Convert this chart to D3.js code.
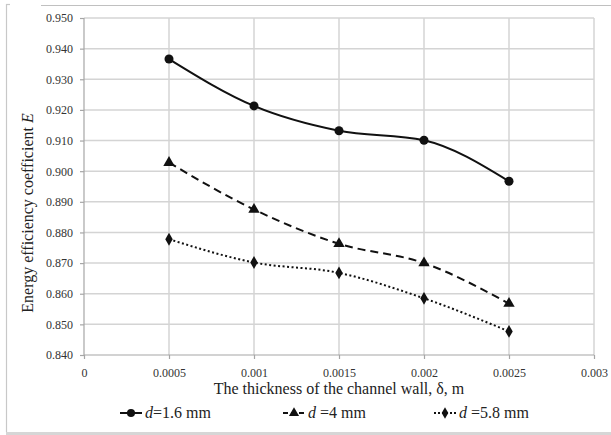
<!DOCTYPE html>
<html>
<head>
<meta charset="utf-8">
<script src="https://cdn.jsdelivr.net/npm/d3@7"></script>
<style>
    body { margin: 0; background: #fff; }
    svg text { font-family: "Liberation Serif", "Times New Roman", "DejaVu Serif", serif !important; }
    .grid line { stroke: #d4d4d4; stroke-width: 1.5; }
    .axis path, .axis line { stroke: #a6a6a6; stroke-width: 1.2; }
    .axis text { font-size: 12px; fill: #333; }
</style>
</head>
<body>
<div id="chart"></div>
<script>
// chart data
const thickness = [0.0005, 0.001, 0.0015, 0.002, 0.0025];
const seriesNames = ["1.6 mm", "4 mm", "5.8 mm"];
const d16 = [0.9366, 0.9213, 0.9132, 0.9101, 0.8967];
const d4 = [0.9028, 0.8875, 0.8763, 0.8700, 0.8568];
const d58 = [0.8778, 0.8702, 0.8668, 0.8585, 0.8477];
const xTicks = [0, 0.0005, 0.001, 0.0015, 0.002, 0.0025, 0.003];
const yTicks = [0.84, 0.85, 0.86, 0.87, 0.88, 0.89, 0.90, 0.91, 0.92, 0.93, 0.94, 0.95];

const width = 611, height = 435;
const margin = { top: 18, right: 17, bottom: 80, left: 84 };
const plotW = width - margin.left - margin.right,
    plotH = height - margin.top - margin.bottom;

const serif = "'Liberation Serif', 'Times New Roman', serif";

const svg = d3.select("#chart").append("svg")
    .attr("width", width)
    .attr("height", height)
    .attr("font-family", serif);

// outer frame (as in the source figure)
svg.append("line").attr("x1", 6.5).attr("x2", 6.5).attr("y1", 4).attr("y2", 432)
    .attr("stroke", "#c8c8c8").attr("stroke-width", 1.2);
svg.append("line").attr("x1", 6).attr("x2", 10).attr("y1", 4.5).attr("y2", 4.5)
    .attr("stroke", "#c8c8c8").attr("stroke-width", 1.2);
svg.append("line").attr("x1", 41).attr("x2", 611).attr("y1", 5.5).attr("y2", 5.5)
    .attr("stroke", "#c0c0c0").attr("stroke-width", 1.2);
svg.append("rect").attr("x", 6).attr("y", 432).attr("width", 605).attr("height", 3)
    .attr("fill", "#d6d6d6");

const g = svg.append("g")
    .attr("transform", "translate(" + margin.left + "," + margin.top + ")");

const x = d3.scaleLinear().domain([0, 0.003]).range([0, plotW]);
const y = d3.scaleLinear().domain([0.84, 0.95]).range([plotH, 0]);

// gridlines
g.append("g").attr("class", "grid")
    .selectAll("line.h").data(yTicks.slice(1)).enter().append("line")
    .attr("x1", 0).attr("x2", plotW)
    .attr("y1", d => y(d)).attr("y2", d => y(d));

g.append("g").attr("class", "grid")
    .selectAll("line.v").data(xTicks.slice(1)).enter().append("line")
    .attr("x1", d => x(d)).attr("x2", d => x(d))
    .attr("y1", 0).attr("y2", plotH);

// axes
const xAxis = d3.axisBottom(x).tickValues(xTicks).tickSize(4).tickPadding(9)
    .tickFormat(d => d === 0 ? "0" : String(+d.toFixed(4)));
const yAxis = d3.axisLeft(y).tickValues(yTicks).tickSize(4).tickPadding(7)
    .tickFormat(d3.format(".3f"));

g.append("g").attr("class", "axis x-axis")
    .attr("transform", "translate(0," + plotH + ")")
    .call(xAxis)
    .attr("font-family", serif)
    .attr("font-size", 12)
    .call(a => a.select(".domain").attr("d", "M0,0H" + plotW));

g.append("g").attr("class", "axis y-axis")
    .call(yAxis)
    .attr("font-family", serif)
    .attr("font-size", 12)
    .call(a => a.select(".domain").attr("d", "M0,0V" + plotH));

// axis titles
const yTitle = svg.append("text")
    .attr("transform", "translate(33,213) rotate(-90)")
    .attr("text-anchor", "middle")
    .attr("font-family", serif)
    .attr("font-size", "16px")
    .attr("fill", "#222");
yTitle.append("tspan").text("Energy efficiency coefficient ");
yTitle.append("tspan").attr("font-style", "italic").text("E");

svg.append("text")
    .attr("x", margin.left + plotW / 2)
    .attr("y", 394)
    .attr("text-anchor", "middle")
    .attr("font-family", serif)
    .attr("font-size", "16px")
    .attr("fill", "#222")
    .text("The thickness of the channel wall, \u03b4, m");

// series
const seriesData = [d16, d4, d58];
const dashes = [null, "8,5", "2,2.5"];
const markers = [d3.symbolCircle, d3.symbolTriangle, d3.symbolDiamond];
const markerSizes = [64, 56, 48];

const line = d3.line()
    .x((d, i) => x(thickness[i]))
    .y(d => y(d))
    .curve(d3.curveMonotoneX);

seriesData.forEach((vals, s) => {
    g.append("path")
        .datum(vals)
        .attr("fill", "none")
        .attr("stroke", "#111")
        .attr("stroke-width", 2)
        .attr("stroke-dasharray", dashes[s])
        .attr("d", line);

    g.selectAll(".m" + s)
        .data(vals)
        .enter().append("path")
        .attr("class", "m" + s)
        .attr("transform", (d, i) => "translate(" + x(thickness[i]) + "," + y(d) + ")")
        .attr("d", d3.symbol().type(markers[s]).size(markerSizes[s]))
        .attr("fill", "#111");
});

// legend
const legendX = [120, 283, 434];
const legendY = 418;
seriesNames.forEach((name, s) => {
    const lg = svg.append("g").attr("transform", "translate(" + legendX[s] + "," + legendY + ")");
    lg.append("line")
        .attr("x1", 0).attr("x2", 22)
        .attr("y1", -5).attr("y2", -5)
        .attr("stroke", "#111")
        .attr("stroke-width", 2)
        .attr("stroke-dasharray", s === 1 ? "5,3" : (s === 2 ? "2,2" : null));
    lg.append("path")
        .attr("transform", "translate(11,-5)")
        .attr("d", d3.symbol().type(markers[s]).size(markerSizes[s] * 0.8))
        .attr("fill", "#111");
    const t = lg.append("text")
        .attr("x", 25)
        .attr("y", 0)
        .attr("font-family", serif)
        .attr("font-size", "16px")
        .attr("fill", "#222");
    t.append("tspan").attr("font-style", "italic").text("d");
    t.append("tspan").text(s === 0 ? "=" + name : " =" + name);
});
</script>
</body>
</html>
